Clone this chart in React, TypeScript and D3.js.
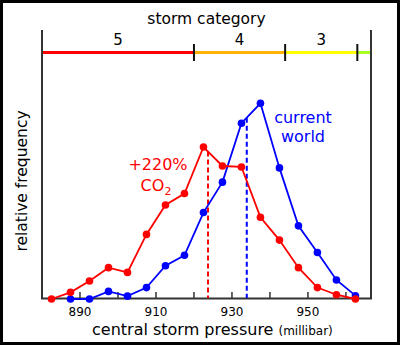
import React from "react";
import * as d3 from "d3";

const pressures = [882.5, 887.5, 892.5, 897.5, 902.5, 907.5, 912.5, 917.5, 922.5, 927.5, 932.5, 937.5, 942.5, 947.5, 952.5, 957.5, 962.5];
const currentWorld = [null, 0, 0, 0.8, 0.3, 1.2, 3.5, 4.6, 9.1, 12.3, 18.5, 20.6, 13.8, 7.7, 4.9, 2.0, 0.35];
const co2World = [0, 0.7, 1.9, 3.3, 2.8, 6.8, 9.9, 11.1, 16.0, 14.0, 13.9, 8.6, 6.2, 3.3, 1.2, 0.45, 0];
const meanCurrent = 933.9;
const meanCO2 = 923.7;
const xTicks = [890, 900, 910, 920, 930, 940, 950, 960];
const xTickLabels = [890, 910, 930, 950];
const categoryBounds = [880, 920, 944, 963, 966.6];
const categoryNames = ["5", "4", "3", ""];
const categoryColors = ["#ff0000", "#ffb300", "#ffff00", "#aaff22"];

const W = 400, H = 345;
const xDomain: [number, number] = [880, 966.6];
const yDomain: [number, number] = [0, 26];

export default function App() {
  const x = d3.scaleLinear().domain(xDomain).range([42, 371]);
  const y = d3.scaleLinear().domain(yDomain).range([299, 52]);
  const font = "DejaVu Sans, Verdana, sans-serif";

  const series = [
    { vals: currentWorld, color: "#0000ff", mean: meanCurrent },
    { vals: co2World, color: "#ff0000", mean: meanCO2 },
  ];

  const interp = (vals: (number | null)[], p: number) => {
    for (let i = 0; i < pressures.length - 1; i++) {
      if (p >= pressures[i] && p <= pressures[i + 1] && vals[i] != null && vals[i + 1] != null) {
        const t = (p - pressures[i]) / (pressures[i + 1] - pressures[i]);
        return (vals[i] as number) * (1 - t) + (vals[i + 1] as number) * t;
      }
    }
    return 0;
  };

  const line = d3
    .line<[number, number | null]>()
    .defined((d) => d[1] != null)
    .x((d) => x(d[0]))
    .y((d) => y(d[1] as number));

  return (
    <svg width={W} height={H} style={{ display: "block", position: "absolute", left: 0, top: 0 }}>
      <rect x={0} y={0} width={W} height={H} fill="#fff" />
      <rect x={1.5} y={1.5} width={W - 3} height={H - 3} fill="none" stroke="#000" strokeWidth={3} />

      {/* category bar */}
      <text x={(x(xDomain[0]) + x(xDomain[1])) / 2} y={24} textAnchor="middle" fontFamily={font} fontSize={15.5} fill="#000">storm category</text>
      {categoryBounds.slice(0, -1).map((b, i) => (
        <g key={i}>
          <line x1={x(b)} x2={x(categoryBounds[i + 1])} y1={52.5} y2={52.5} stroke={categoryColors[i]} strokeWidth={3} />
          <text x={(x(b) + x(categoryBounds[i + 1])) / 2} y={45} textAnchor="middle" fontFamily={font} fontSize={15} fill="#000">{categoryNames[i]}</text>
        </g>
      ))}
      {categoryBounds.slice(1, -1).map((b, i) => (
        <line key={i} x1={x(b)} x2={x(b)} y1={44} y2={61} stroke="#111" strokeWidth={2} />
      ))}

      {/* frame */}
      <line x1={42} x2={42} y1={30} y2={299} stroke="#333" strokeWidth={2} />
      <line x1={371} x2={371} y1={30} y2={299} stroke="#333" strokeWidth={2} />
      <line x1={41} x2={372} y1={298.5} y2={298.5} stroke="#333" strokeWidth={2} />
      {xTicks.map((t) => (
        <line key={t} x1={x(t)} x2={x(t)} y1={298} y2={292} stroke="#333" strokeWidth={1.5} />
      ))}
      {xTickLabels.map((t) => (
        <text key={t} x={x(t)} y={316} textAnchor="middle" fontFamily={font} fontSize={12} fill="#000">{t}</text>
      ))}

      {/* dashed mean lines */}
      {series.map((s, i) => (
        <line key={i} x1={x(s.mean)} x2={x(s.mean)} y1={y(interp(s.vals, s.mean))} y2={298} stroke={s.color} strokeWidth={2} strokeDasharray="5,3" />
      ))}

      {/* series */}
      {series.map((s, i) => {
        const pts = pressures.map((p, j) => [p, s.vals[j]] as [number, number | null]);
        return (
          <g key={i}>
            <path d={line(pts) || ""} fill="none" stroke={s.color} strokeWidth={1.8} />
            {pts.filter((d) => d[1] != null).map((d, j) => (
              <circle key={j} cx={x(d[0])} cy={y(d[1] as number)} r={3.8} fill={s.color} />
            ))}
          </g>
        );
      })}

      {/* annotations */}
      <text x={158} y={170} textAnchor="middle" fontFamily={font} fontSize={16} fill="#ff0000">+220%</text>
      <text x={156} y={191} textAnchor="middle" fontFamily={font} fontSize={16} fill="#ff0000">CO<tspan fontSize={11} dy={4}>2</tspan></text>
      <text x={303} y={123} textAnchor="middle" fontFamily={font} fontSize={16} fill="#0000ff">current</text>
      <text x={303} y={142} textAnchor="middle" fontFamily={font} fontSize={16} fill="#0000ff">world</text>

      {/* axis titles */}
      <text transform="translate(27,181) rotate(-90)" textAnchor="middle" fontFamily={font} fontSize={15.5} fill="#000">relative frequency</text>
      <text x={92} y={335} fontFamily={font} fontSize={16} fill="#000">central storm pressure<tspan fontSize={12} dx={5}>(millibar)</tspan></text>
    </svg>
  );
}
